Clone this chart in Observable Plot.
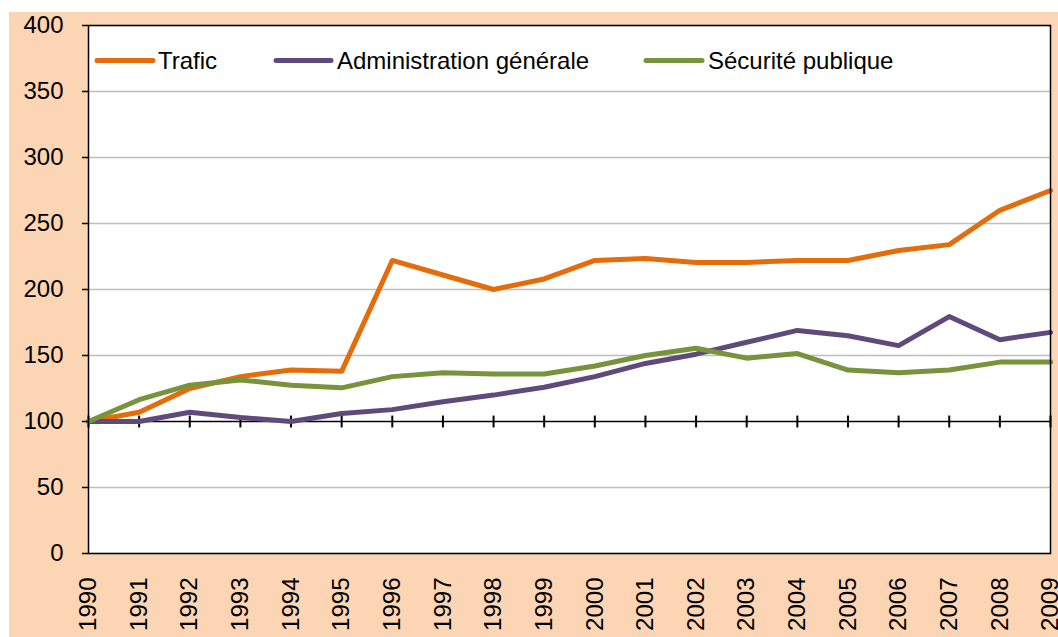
<!DOCTYPE html>
<html>
<head>
<meta charset="utf-8">
<script src="https://cdn.jsdelivr.net/npm/d3@7"></script>
<script src="https://cdn.jsdelivr.net/npm/@observablehq/plot@0.6"></script>
<style>
  html, body { margin: 0; padding: 0; background: #ffffff; }
  #wrap { position: relative; width: 1058px; height: 637px; overflow: hidden; }
  #chart { position: absolute; left: 9px; top: 12px; }
  #legend { position: absolute; left: 0; top: 0; pointer-events: none; }
</style>
</head>
<body>
<div id="wrap">
  <div id="chart"></div>
  <svg id="legend" width="1058" height="120"></svg>
</div>
<script>
const years = [1990,1991,1992,1993,1994,1995,1996,1997,1998,1999,2000,2001,2002,2003,2004,2005,2006,2007,2008,2009];
const trafic = [100,107,125,134,139,138,222,211,200,208,222,223.5,220.5,220.5,222,222,229.5,234,260,275];
const administration = [100,100,107,103,100,106,109,115,120,126,134,144,151,160,169,165,157.5,179.5,162,167.5];
const securite = [100,116.5,127.5,131.5,127.5,125.5,134,137,136,136,142,150,155.5,148,151.5,139,137,139,145,145];
const seriesNames = ["Trafic", "Administration générale", "Sécurité publique"];
const seriesColors = ["#E46C0A", "#604A7B", "#77933C"];
const yTicks = [0,50,100,150,200,250,300,350,400];
const crossAt = 100;

const seriesValues = [trafic, administration, securite];
const rows = [];
seriesNames.forEach((name, s) => {
  years.forEach((yr, i) => rows.push({series: name, year: yr, value: seriesValues[s][i]}));
});
const tickRows = years.map(yr => ({year: yr, lo: crossAt - 4.5, hi: crossAt + 4.5}));

const font = "'Liberation Sans', Arial, Helvetica, sans-serif";

const chart = Plot.plot({
  width: 1049,
  height: 625,
  marginLeft: 79,
  marginTop: 13,
  marginRight: 8,
  marginBottom: 84,
  style: {background: "#FCD5B5", fontFamily: font, fontSize: "24px", color: "#000", overflow: "visible"},
  x: {domain: [1990, 2009]},
  y: {domain: [0, 400]},
  color: {domain: seriesNames, range: seriesColors},
  marks: [
    Plot.frame({fill: "white", stroke: "none"}),
    Plot.ruleY(yTicks.filter(d => d !== crossAt), {y: d => d, stroke: "#BFBFBF", strokeWidth: 1.5}),
    Plot.ruleY([crossAt], {y: d => d, stroke: "black", strokeWidth: 1.5}),
    Plot.link(tickRows, {x1: "year", x2: "year", y1: "lo", y2: "hi", stroke: "black", strokeWidth: 2}),
    Plot.line(rows, {x: "year", y: "value", z: "series", stroke: "series", strokeWidth: 5, strokeLinejoin: "round", strokeLinecap: "round"}),
    Plot.axisY({ticks: yTicks, tickSize: 6, tickPadding: 19, tickFormat: d => String(d), label: null, fontSize: 24, stroke: "black", strokeWidth: 1.5, color: "black"}),
    Plot.axisX({ticks: years, tickSize: 0, tickPadding: 24, tickRotate: -90, tickFormat: d => String(d), label: null, fontSize: 24, color: "black"}),
    Plot.frame({stroke: "black", strokeWidth: 1.5})
  ]
});
document.getElementById("chart").appendChild(chart);

// Legend (inside plot area, top)
const legendPos = [{x1: 97, x2: 153, tx: 158}, {x1: 276, x2: 331, tx: 337}, {x1: 646, x2: 702, tx: 708}];
const lg = d3.select("#legend");
seriesNames.forEach((name, i) => {
  const p = legendPos[i];
  lg.append("line").attr("x1", p.x1).attr("x2", p.x2).attr("y1", 60.5).attr("y2", 60.5)
    .attr("stroke", seriesColors[i]).attr("stroke-width", 5).attr("stroke-linecap", "round");
  lg.append("text").attr("x", p.tx).attr("y", 60.5).attr("dy", "0.35em")
    .attr("font-family", font).attr("font-size", 24).attr("fill", "#000").text(name);
});
</script>
</body>
</html>
